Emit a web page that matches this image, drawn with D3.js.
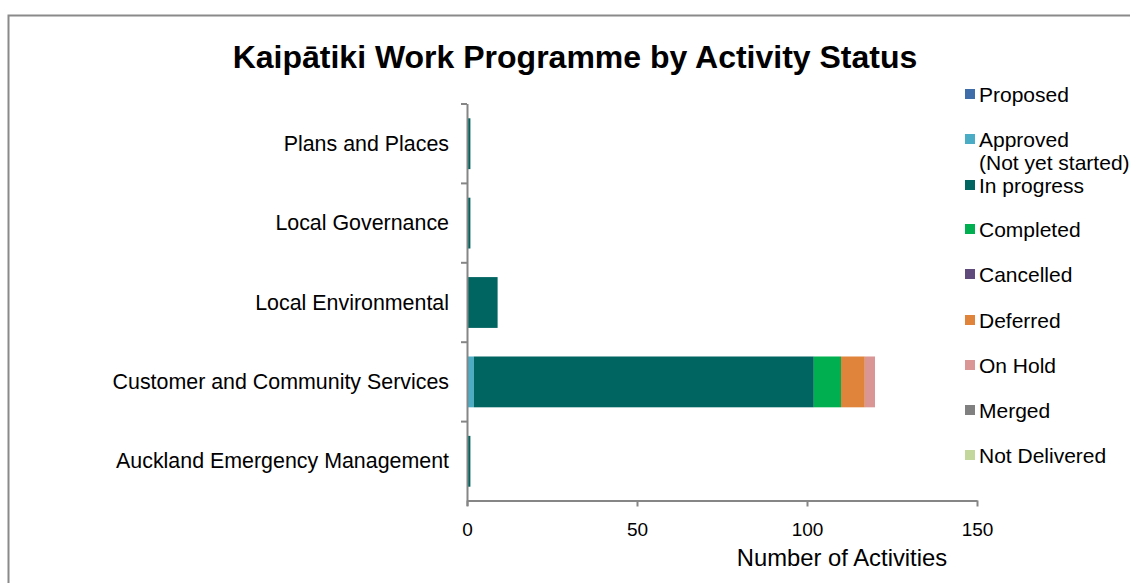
<!DOCTYPE html>
<html>
<head>
<meta charset="utf-8">
<script src="https://cdn.jsdelivr.net/npm/d3@7"></script>
<style>
  body { margin: 0; background: #fff; }
  text { font-family: "Liberation Sans", Arial, sans-serif; fill: #000; }
</style>
</head>
<body>
<div id="graph"></div>
<script>
'use strict';

const categories = [
    'Plans and Places',
    'Local Governance',
    'Local Environmental',
    'Customer and Community Services',
    'Auckland Emergency Management',
];

const statuses = ['Proposed', 'Approved', 'In progress', 'Completed', 'Cancelled',
    'Deferred', 'On Hold', 'Merged', 'Not Delivered'];

const statusColors = ['#3F6DAA', '#4BACC6', '#006561', '#00B050', '#604A7B',
    '#E0843C', '#D99694', '#808080', '#C3D69B'];

// counts per category, in status order
const proposed     = [0, 0, 0, 0, 0];
const approved     = [0, 0, 0, 2, 0];
const inProgress   = [1, 1, 9, 100, 1];
const completed    = [0, 0, 0, 8, 0];
const cancelled    = [0, 0, 0, 0, 0];
const deferred     = [0, 0, 0, 7, 0];
const onHold       = [0, 0, 0, 3, 0];
const merged       = [0, 0, 0, 0, 0];
const notDelivered = [0, 0, 0, 0, 0];

const xTicks = [0, 50, 100, 150];

const series = [proposed, approved, inProgress, completed, cancelled,
    deferred, onHold, merged, notDelivered];

const rows = categories.map((c, i) => {
    let row = { cat: c };
    statuses.forEach((s, j) => { row[s] = series[j][i]; });
    return row;
});

const svg = d3.select('#graph')
    .append('svg')
    .attr('width', 1130)
    .attr('height', 583);

// outer frame
svg.append('path')
    .attr('d', 'M8.5,583 L8.5,15.5 L1130,15.5')
    .attr('fill', 'none')
    .attr('stroke', '#8a8a8a')
    .attr('stroke-width', 2);

svg.append('text')
    .attr('x', 575)
    .attr('y', 68)
    .attr('text-anchor', 'middle')
    .style('font-size', '32px')
    .style('font-weight', 'bold')
    .text('Kaipātiki Work Programme by Activity Status');

const xScale = d3.scaleLinear().domain([0, 150]).range([467, 977]);
const yScale = d3.scaleBand().domain(categories).range([104, 501]).paddingInner(0.36).paddingOuter(0.18);

const stacked = d3.stack().keys(statuses)(rows);

svg.append('g')
    .selectAll('g')
    .data(stacked)
    .enter()
    .append('g')
    .attr('fill', (d, i) => statusColors[i])
    .selectAll('rect')
    .data(d => d)
    .enter()
    .append('rect')
    .attr('x', d => xScale(d[0]))
    .attr('y', d => yScale(d.data.cat))
    .attr('width', d => xScale(d[1]) - xScale(d[0]))
    .attr('height', yScale.bandwidth());

// x axis
const xAxis = svg.append('g')
    .attr('transform', 'translate(0, 500.5)')
    .call(d3.axisBottom(xScale).tickValues(xTicks).tickSize(6).tickSizeOuter(0));
xAxis.select('.domain').attr('stroke', '#868686').attr('stroke-width', 2);
xAxis.selectAll('.tick line').attr('stroke', '#868686').attr('stroke-width', 2);
xAxis.selectAll('.tick text')
    .attr('y', 22)
    .style('font-size', '19px')
    .style('font-family', '"Liberation Sans", Arial, sans-serif')
    .attr('fill', '#000');

// y axis with ticks on band boundaries
const bounds = d3.range(categories.length + 1).map(i => 104 + i * (501 - 104) / categories.length);
const yAxis = svg.append('g');
yAxis.append('line')
    .attr('x1', 467.5).attr('x2', 467.5)
    .attr('y1', 104).attr('y2', 506)
    .attr('stroke', '#868686').attr('stroke-width', 2);
yAxis.selectAll('.yt')
    .data(bounds.slice(0, -1))
    .enter()
    .append('line')
    .attr('x1', 461).attr('x2', 467)
    .attr('y1', d => d).attr('y2', d => d)
    .attr('stroke', '#868686').attr('stroke-width', 2);
yAxis.selectAll('.yl')
    .data(categories)
    .enter()
    .append('text')
    .attr('x', 449)
    .attr('y', d => yScale(d) + yScale.bandwidth() / 2 + 7)
    .attr('text-anchor', 'end')
    .style('font-size', '21.4px')
    .text(d => d);

svg.append('text')
    .attr('x', 842)
    .attr('y', 566)
    .attr('text-anchor', 'middle')
    .style('font-size', '23.8px')
    .text('Number of Activities');

// legend
const legendY = [94, 139, 185, 229, 274, 320, 365, 410, 455];
const legend = svg.append('g');
statuses.forEach((s, i) => {
    legend.append('rect')
        .attr('x', 965).attr('y', legendY[i] - 5)
        .attr('width', 10).attr('height', 10)
        .attr('fill', statusColors[i]);
    let t = legend.append('text')
        .attr('x', 979).attr('y', legendY[i] + 7.5)
        .style('font-size', '21px');
    if (s === 'Approved') {
        t.append('tspan').text('Approved');
        t.append('tspan').attr('x', 979).attr('dy', 23).text('(Not yet started)');
    } else {
        t.text(s);
    }
});
</script>
</body>
</html>
